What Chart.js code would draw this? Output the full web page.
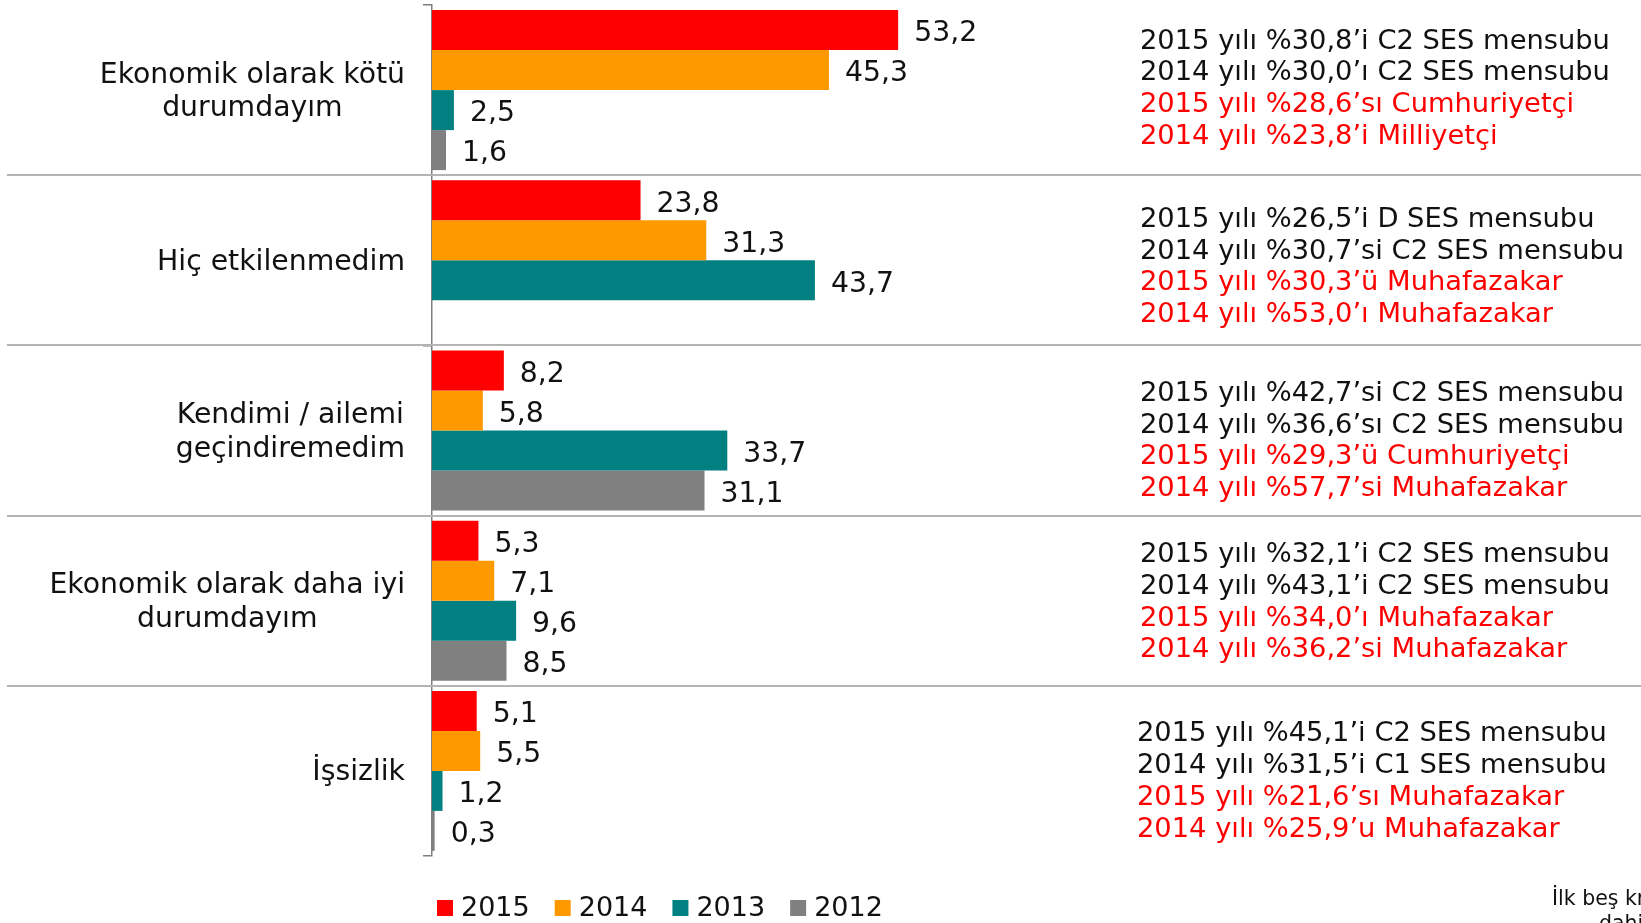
<!DOCTYPE html>
<html>
<head>
<meta charset="utf-8">
<script src="https://cdn.jsdelivr.net/npm/chart.js@4.4.0/dist/chart.umd.min.js"></script>
<style>
  html, body { margin: 0; padding: 0; background: #fff; }
</style>
</head>
<body>
<canvas id="chart" width="1641" height="923"></canvas>
<script>
// Categories (multi-line labels) and years.
const categories = [
  ['Ekonomik olarak kötü', 'durumdayım'],
  ['Hiç etkilenmedim'],
  ['Kendimi / ailemi', 'geçindiremedim'],
  ['Ekonomik olarak daha iyi', 'durumdayım'],
  ['İşsizlik']
];
const years = ['2015', '2014', '2013', '2012'];

// Series values (%).
const values2015 = [53.2, 23.8, 8.2, 5.3, 5.1];
const values2014 = [45.3, 31.3, 5.8, 7.1, 5.5];
const values2013 = [2.5, 43.7, 33.7, 9.6, 1.2];
const values2012 = [1.6, null, 31.1, 8.5, 0.3];

// Notes shown to the right of each category.
const notes = [
  ['2015 yılı %30,8’i C2 SES mensubu', '2014 yılı %30,0’ı C2 SES mensubu', '2015 yılı %28,6’sı Cumhuriyetçi', '2014 yılı %23,8’i Milliyetçi'],
  ['2015 yılı %26,5’i D SES mensubu', '2014 yılı %30,7’si C2 SES mensubu', '2015 yılı %30,3’ü Muhafazakar', '2014 yılı %53,0’ı Muhafazakar'],
  ['2015 yılı %42,7’si C2 SES mensubu', '2014 yılı %36,6’sı C2 SES mensubu', '2015 yılı %29,3’ü Cumhuriyetçi', '2014 yılı %57,7’si Muhafazakar'],
  ['2015 yılı %32,1’i C2 SES mensubu', '2014 yılı %43,1’i C2 SES mensubu', '2015 yılı %34,0’ı Muhafazakar', '2014 yılı %36,2’si Muhafazakar'],
  ['2015 yılı %45,1’i C2 SES mensubu', '2014 yılı %31,5’i C1 SES mensubu', '2015 yılı %21,6’sı Muhafazakar', '2014 yılı %25,9’u Muhafazakar']
];
const footnote = ['İlk beş kriter', 'dahil edilmiştir'];

const colors = ['#FF0000', '#FF9900', '#008080', '#808080'];
const FONT = '"DejaVu Sans", Verdana, sans-serif';
const TEXT = '#111111';
// Nudge of each note block from its category centre (text boxes in the original).
const noteShiftY = [-1, 7, 11, 2, 11];
const noteShiftX = [0, 0, 0, 0, -3];

// Draws the category labels, value labels, notes, separators and legend.
const decorations = {
  id: 'decorations',
  beforeDatasetsDraw(chart) {
    const ctx = chart.ctx;
    const y = chart.scales.y;
    ctx.save();
    ctx.strokeStyle = '#b4b4b4';
    ctx.lineWidth = 2;
    for (let i = 0; i < categories.length - 1; i++) {
      const yy = Math.round((y.getPixelForValue(i) + y.getPixelForValue(i + 1)) / 2);
      ctx.beginPath();
      ctx.moveTo(7, yy);
      ctx.lineTo(chart.width, yy);
      ctx.stroke();
    }
    ctx.restore();
  },
  afterDatasetsDraw(chart) {
    const ctx = chart.ctx;
    const area = chart.chartArea;
    const y = chart.scales.y;
    ctx.save();
    ctx.font = '28.3px ' + FONT;
    ctx.fillStyle = TEXT;
    ctx.textBaseline = 'middle';

    // Value labels at bar ends.
    chart.data.datasets.forEach((ds, di) => {
      const meta = chart.getDatasetMeta(di);
      meta.data.forEach((bar, i) => {
        const v = ds.data[i];
        if (v === null) return;
        ctx.textAlign = 'left';
        ctx.fillText(v.toFixed(1).replace('.', ','), bar.x + 16, bar.y + 4);
      });
    });

    // Category labels: block right-aligned, lines centred.
    categories.forEach((lines, i) => {
      const cy = y.getPixelForValue(i) + 2;
      const widest = Math.max(...lines.map(l => ctx.measureText(l).width));
      const cx = area.left - 27 - widest / 2;
      const lh = 33.5;
      ctx.textAlign = 'center';
      lines.forEach((l, k) => {
        ctx.fillText(l, cx, cy - (lines.length - 1) * lh / 2 + k * lh);
      });
    });

    // Notes on the right.
    ctx.font = '27.3px ' + FONT;
    ctx.textAlign = 'left';
    notes.forEach((lines, i) => {
      const cy = y.getPixelForValue(i) + noteShiftY[i];
      const lh = 31.7;
      lines.forEach((l, k) => {
        ctx.fillStyle = k < 2 ? TEXT : '#FF0000';
        ctx.fillText(l, area.right + 7 + noteShiftX[i], cy - (lines.length - 1) * lh / 2 + k * lh);
      });
    });

    // Legend.
    ctx.font = '27px ' + FONT;
    let lx = area.left + 5;
    const ly = area.bottom + 52;
    years.forEach((yr, i) => {
      ctx.fillStyle = colors[i];
      ctx.fillRect(lx, ly - 8, 16, 16);
      ctx.fillStyle = TEXT;
      ctx.textAlign = 'left';
      ctx.fillText(yr, lx + 24, ly + 1);
      lx += 24 + ctx.measureText(yr).width + 25;
    });

    // Footnote, cut off by the right edge as in the original.
    ctx.font = '20.5px ' + FONT;
    ctx.textBaseline = 'alphabetic';
    ctx.fillText(footnote[0], chart.width - 89, 905);
    ctx.fillText(footnote[1], chart.width - 42, 930);
    ctx.restore();
  }
};

const seriesValues = [values2015, values2014, values2013, values2012];

new Chart(document.getElementById('chart'), {
  type: 'bar',
  data: {
    labels: categories,
    datasets: years.map((yr, i) => ({
      label: yr,
      data: seriesValues[i],
      backgroundColor: colors[i],
      borderWidth: 0,
      barPercentage: 1,
      categoryPercentage: 0.94
    }))
  },
  options: {
    indexAxis: 'y',
    responsive: false,
    devicePixelRatio: 1,
    animation: false,
    layout: { padding: { left: 423, right: 508, top: 5, bottom: 67 } },
    scales: {
      x: { display: false, min: 0, max: 80 },
      y: {
        offset: true,
        grid: { drawOnChartArea: false, drawTicks: true, tickLength: 9, color: '#7f7f7f', lineWidth: 1.5 },
        border: { color: '#7f7f7f', width: 1.5 },
        ticks: { display: false }
      }
    },
    plugins: {
      legend: { display: false },
      tooltip: { enabled: false }
    }
  },
  plugins: [decorations]
});
</script>
</body>
</html>
